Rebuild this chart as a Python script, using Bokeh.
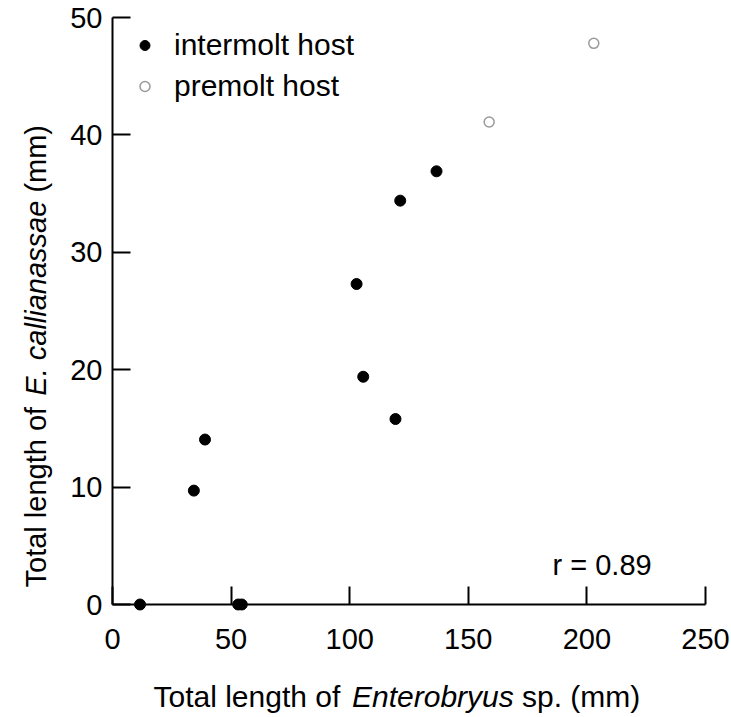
import math
from bokeh.plotting import figure
from bokeh.models import Range1d, FixedTicker, Legend, LegendItem
from bokeh.core.properties import value
from bokeh.embed import file_html
from bokeh.resources import INLINE

# ---- data ----
inter_x = [11.6, 53.0, 54.5, 34.3, 39.0, 102.9, 105.7, 119.3, 121.3, 136.6]
inter_y = [0.0, 0.0, 0.0, 9.7, 14.05, 27.3, 19.4, 15.8, 34.4, 36.9]
pre_x = [158.8, 202.9]
pre_y = [41.1, 47.8]
x_ticks = [0, 50, 100, 150, 200, 250]
y_ticks = [0, 10, 20, 30, 40, 50]
legend_labels = ["intermolt host", "premolt host"]
r_text = "r = 0.89"
x_title = ["Total length of", "Enterobryus", "sp. (mm)"]
y_title = ["Total length of", "E. callianassae", "(mm)"]

FONT = "Liberation Sans"
FW, FH = 593, 587

p = figure(frame_width=FW, frame_height=FH,
           min_border_left=112, min_border_right=26,
           min_border_top=17, min_border_bottom=113,
           x_range=Range1d(0, 250), y_range=Range1d(0, 50),
           output_backend="svg", toolbar_location=None)
# pixel ranges of the frame, used only to place the axis titles
p.extra_x_ranges = {"px": Range1d(0, FW)}
p.extra_y_ranges = {"px": Range1d(0, FH)}
p.outline_line_color = None
p.grid.visible = False
p.background_fill_color = "white"
p.border_fill_color = "white"

for ax in (p.xaxis[0], p.yaxis[0]):
    ax.axis_line_width = 2
    ax.axis_line_color = "black"
    ax.major_tick_line_width = 2
    ax.major_tick_line_color = "black"
    ax.major_tick_in = 18
    ax.major_tick_out = 0
    ax.minor_tick_line_color = None
    ax.major_label_text_font = FONT
    ax.major_label_text_font_size = "29px"
    ax.major_label_text_color = "black"

p.xaxis[0].ticker = FixedTicker(ticks=x_ticks)
p.yaxis[0].ticker = FixedTicker(ticks=y_ticks)
p.xaxis[0].major_label_standoff = 24
p.yaxis[0].major_label_standoff = 10

r1 = p.scatter(inter_x, inter_y, marker="circle", size=11,
               fill_color="black", line_color="black", level="overlay")
r2 = p.scatter(pre_x, pre_y, marker="circle", size=10,
               fill_color=None, line_color="#9a9a9a", line_width=1.5, level="overlay")

legend = Legend(items=[LegendItem(label=legend_labels[0], renderers=[r1]),
                       LegendItem(label=legend_labels[1], renderers=[r2])],
                location=(20, 500), padding=0, margin=0, spacing=5,
                glyph_width=25, glyph_height=36, label_height=36,
                label_standoff=17, border_line_color=None,
                background_fill_alpha=0,
                label_text_font=FONT, label_text_font_size="30px",
                label_text_color="black")
p.add_layout(legend)

def put_text(xs, ys, texts, styles, size, angle=0.0):
    p.text(x=xs, y=ys, text=texts, text_font_style=styles,
           x_range_name="px", y_range_name="px",
           text_font=value(FONT), text_font_size=value(size), text_color="black",
           text_align="left", text_baseline="alphabetic", angle=angle,
           level="overlay")

# r value
put_text([440], [40], [r_text], ["normal"], "29px")

# x-axis title (mixed roman / italic)
styles = ["normal", "italic", "normal"]
put_text([41, 239.5, 409.5], [-92, -92, -92], x_title, styles, "30px")

# y-axis title (rotated, mixed roman / italic)
put_text([-77, -77, -77], [17, 208.8, 411.9], y_title, styles, "29px", angle=math.pi / 2)

open("out.html", "w").write(file_html(p, INLINE))
